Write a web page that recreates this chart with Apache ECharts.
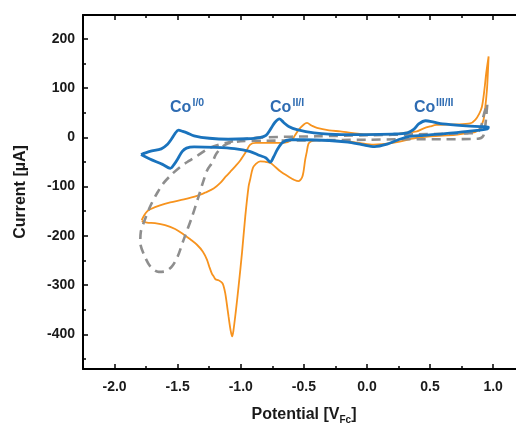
<!DOCTYPE html>
<html><head><meta charset="utf-8">
<script src="https://cdn.jsdelivr.net/npm/echarts@6/dist/echarts.min.js"></script>
<style>html,body{margin:0;padding:0;background:#fff}#c{width:516px;height:423px}</style>
</head><body><div id="c"></div>
<script>
// Tick values
const xMajor = [-2.0, -1.5, -1.0, -0.5, 0.0, 0.5, 1.0];
const xMinor = [-1.75, -1.25, -0.75, -0.25, 0.25, 0.75];
const yMajor = [-400, -300, -200, -100, 0, 100, 200];
const yMinor = [-450, -350, -250, -150, -50, 50, 150];

// Blue CV [potential V, current uA]
const blueCV = [
  [-1.79,-35],[-1.72,-28.5],[-1.63,-23.5],[-1.58,-14],[-1.55,-4],[-1.52,8],[-1.493,14.5],[-1.46,12],[-1.426,9],[-1.37,3],
  [-1.25,-2],[-1.1,-4],[-0.95,-3],[-0.85,-0.5],[-0.8,4],[-0.765,16],[-0.73,30],[-0.693,37.5],[-0.66,30],[-0.62,22],
  [-0.555,15.5],[-0.42,9],[-0.2,5.5],[0.0,5.5],[0.2,6.5],[0.32,9],[0.37,16],[0.41,27],[0.465,33.5],[0.53,30.5],
  [0.6,27],[0.76,23.5],[0.9,21.5],[0.962,21],
  [0.955,17],[0.8,12],[0.6,7],[0.45,4],[0.32,1],[0.24,-6],[0.16,-14],[0.06,-19],[-0.04,-15],[-0.15,-10],
  [-0.3,-6.5],[-0.5,-5],[-0.61,-5],[-0.67,-11],[-0.71,-25],[-0.74,-40],[-0.766,-50.5],[-0.8,-42],[-0.85,-37],[-0.93,-28.5],
  [-1.05,-23],[-1.2,-20.5],[-1.37,-19.5],[-1.43,-22],[-1.465,-29],[-1.495,-42],[-1.525,-54],[-1.558,-63],[-1.62,-55],[-1.72,-44],[-1.79,-35]
];

// Orange CV
const orangeCV = [
  [-1.785,-168],[-1.765,-158],[-1.74,-150],[-1.717,-146],[-1.64,-138],[-1.559,-132],[-1.45,-126],[-1.347,-119],[-1.28,-112],[-1.215,-104],
  [-1.16,-92],[-1.12,-80],[-1.083,-70],[-1.04,-58],[-1.004,-47],[-0.96,-30],[-0.925,-15],[-0.88,-11.5],[-0.8,-11.5],[-0.66,-11.5],
  [-0.6,-6],[-0.57,4],[-0.542,15],[-0.5,26],[-0.475,29],[-0.44,24],[-0.396,19],[-0.3,14],[-0.212,12],[0.0,6],
  [0.2,6],[0.3,9],[0.396,12],[0.45,18],[0.502,22],[0.55,25],[0.7,26],[0.818,28],[0.86,36],[0.89,48],
  [0.911,62],[0.93,95],[0.945,130],[0.964,164],
  [0.958,130],[0.951,97],[0.935,55],[0.924,36],[0.898,19],[0.86,11],[0.818,9],[0.7,5],[0.502,2],[0.35,-3],
  [0.238,-10],[0.12,-14],[0.053,-15],[-0.05,-12],[-0.158,-8],[-0.3,-6],[-0.4,-5.5],[-0.44,-8],[-0.463,-13],[-0.477,-30],
  [-0.489,-45],[-0.503,-70],[-0.515,-82],[-0.542,-89],[-0.58,-86],[-0.608,-82],[-0.687,-69],[-0.74,-57],[-0.766,-52],[-0.81,-49.5],
  [-0.846,-48.7],[-0.88,-54],[-0.905,-63],[-0.925,-85],[-0.938,-100],[-0.964,-160],[-0.99,-234],[-1.017,-302],[-1.04,-355],[-1.058,-392],
  [-1.068,-404],[-1.08,-392],[-1.097,-363],[-1.112,-335],[-1.123,-316],[-1.138,-300],[-1.149,-295],[-1.176,-290],[-1.2,-288],[-1.215,-282],
  [-1.228,-277],[-1.25,-262],[-1.268,-248],[-1.3,-232],[-1.347,-218],[-1.4,-207],[-1.453,-197],[-1.52,-186],[-1.6,-178],[-1.68,-174],
  [-1.743,-173],[-1.785,-170]
];

// Gray dashed CV
const grayCV = [
  [0.953,66],[0.945,42],[0.935,18],[0.92,2],[0.88,-3],[0.6,-4],[0.3,-4],[0.0,-5],[-0.4,-6],[-0.8,-7],
  [-1.0,-8],[-1.12,-15],[-1.19,-32],[-1.228,-52],[-1.268,-68],[-1.334,-120],[-1.387,-162],[-1.453,-208],[-1.5,-242],[-1.545,-262],
  [-1.6,-272],[-1.651,-273],[-1.717,-262],[-1.77,-236],[-1.796,-214],[-1.792,-192],[-1.77,-174],[-1.717,-140],[-1.66,-112],[-1.612,-93],
  [-1.55,-76],[-1.479,-60],[-1.41,-48],[-1.347,-38],[-1.242,-21],[-1.109,-11],[-0.95,-3],[-0.8,0],[-0.4,2],[0.0,4],
  [0.4,6],[0.8,8],[0.87,10],[0.9,18],[0.92,40],[0.94,58],[0.953,66]
];

// Peak annotations
const annoMain = ['Co', 'Co', 'Co'];
const annoSup = ['I/0', 'II/I', 'III/II'];

const FONT = 'Arial, "Liberation Sans", sans-serif';
const XMIN = -2.25, XMAX = 1.181, YMIN = -470, YMAX = 248;
const TXT = '#1a1a1a';
const ANNO = '#2f6cb2';

function tickAxisX(pos, vals, len, showLine) {
  return {
    type: 'value', position: pos, min: XMIN, max: XMAX,
    axisLine: { show: showLine, onZero: false, lineStyle: { color: '#000', width: 2 } },
    axisTick: { show: true, inside: true, length: len, customValues: vals, lineStyle: { color: '#000', width: 1.5 } },
    axisLabel: { show: false }, splitLine: { show: false }
  };
}
function tickAxisY(vals, len) {
  return {
    type: 'value', position: 'left', min: YMIN, max: YMAX,
    axisLine: { show: false, onZero: false },
    axisTick: { show: true, inside: true, length: len, customValues: vals, lineStyle: { color: '#000', width: 1.5 } },
    axisLabel: { show: false }, splitLine: { show: false }
  };
}

const chart = echarts.init(document.getElementById('c'), null, { renderer: 'canvas' });
const annoX = [170, 270, 414];
const supX = [192.5, 292.5, 436];
const graphics = [];
for (let k = 0; k < annoMain.length; k++) {
  graphics.push({ type: 'text', x: annoX[k], y: 107.5, style: { text: annoMain[k], font: 'bold 16px ' + FONT, fill: ANNO, verticalAlign: 'middle', align: 'left' } });
  graphics.push({ type: 'text', x: supX[k], y: 103, style: { text: annoSup[k], font: 'bold 10.5px ' + FONT, fill: ANNO, verticalAlign: 'middle', align: 'left' } });
}

chart.setOption({
  animation: false,
  backgroundColor: '#fff',
  grid: { left: 83, right: 0, top: 15, bottom: 54, containLabel: false, outerBoundsMode: 'none' },
  xAxis: [
    {
      type: 'value', position: 'bottom', min: XMIN, max: XMAX,
      name: '{n|Potential [V}{s|Fc}{n|]}', nameLocation: 'middle', nameGap: 36,
      nameTextStyle: {
        padding: [0, 0, 0, 9],
        rich: {
          n: { fontFamily: FONT, fontWeight: 'bold', fontSize: 16, color: TXT, lineHeight: 20, verticalAlign: 'middle' },
          s: { fontFamily: FONT, fontWeight: 'bold', fontSize: 10, color: TXT, lineHeight: 10, verticalAlign: 'bottom' }
        }
      },
      axisLine: { show: true, onZero: false, lineStyle: { color: '#000', width: 2 } },
      axisTick: { show: true, inside: true, length: 5, customValues: xMajor, lineStyle: { color: '#000', width: 1.5 } },
      axisLabel: { show: true, customValues: xMajor, margin: 11, fontFamily: FONT, fontWeight: 'bold', fontSize: 14, color: TXT,
        formatter: v => v.toFixed(1) },
      splitLine: { show: false }
    },
    tickAxisX('bottom', xMinor, 3, false),
    tickAxisX('top', xMajor, 5, true),
    tickAxisX('top', xMinor, 3, false)
  ],
  yAxis: [
    {
      type: 'value', position: 'left', min: YMIN, max: YMAX,
      name: 'Current [µA]', nameLocation: 'middle', nameGap: 54,
      nameTextStyle: { fontFamily: FONT, fontWeight: 'bold', fontSize: 16, color: TXT },
      axisLine: { show: true, onZero: false, lineStyle: { color: '#000', width: 2 } },
      axisTick: { show: true, inside: true, length: 5, customValues: yMajor, lineStyle: { color: '#000', width: 1.5 } },
      axisLabel: { show: true, customValues: yMajor, margin: 8, fontFamily: FONT, fontWeight: 'bold', fontSize: 14, color: TXT },
      splitLine: { show: false }
    },
    tickAxisY(yMinor, 3)
  ],
  series: [
    { type: 'line', name: 'orange', data: orangeCV, xAxisIndex: 0, yAxisIndex: 0, showSymbol: false, smooth: 0.3,
      lineStyle: { color: '#f7931e', width: 1.8 } },
    { type: 'line', name: 'gray', data: grayCV, xAxisIndex: 0, yAxisIndex: 0, showSymbol: false, smooth: 0.3,
      lineStyle: { color: '#8e8e8e', width: 2.6, type: [9, 6] } },
    { type: 'line', name: 'blue', data: blueCV, xAxisIndex: 0, yAxisIndex: 0, showSymbol: false, smooth: 0.3,
      lineStyle: { color: '#1a73bd', width: 2.8 } }
  ],
  graphic: graphics
});
</script></body></html>
